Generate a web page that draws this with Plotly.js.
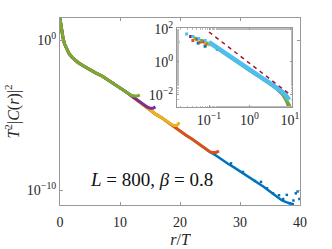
<!DOCTYPE html>
<html><head><meta charset="utf-8">
<script src="https://cdn.plot.ly/plotly-3.0.1.min.js"></script>
<style>html,body{margin:0;padding:0;background:#fff}#c{width:332px;height:249px}</style>
</head><body><div id="c"></div>
<script>
// ---- main panel data: r/T vs T^2|C(r)|^2 ----
const blueX = [0,0.25,0.5,0.75,1,1.5,2,2.5,3,4,5,6,7,8,9,10,11,12,13,14,15,16,17,18,19,20,21,22,23,24,25,26,27,28,29,30,31,32,33,34,35,36,37,38,39];
const blueY = [28,5,1.4,0.56,0.32,0.126,0.071,0.045,0.032,0.018,0.01,0.0063,0.004,0.0022,1.26e-3,7.1e-4,3.5e-4,1.8e-4,8.9e-5,4.5e-5,2.2e-5,1.1e-5,6.3e-6,3.2e-6,1.6e-6,8.9e-7,4.5e-7,2.5e-7,1.26e-7,7.1e-8,3.5e-8,2.0e-8,1.0e-8,5.6e-9,3.2e-9,1.8e-9,1e-9,5.6e-10,2.8e-10,1.6e-10,7.9e-11,4e-11,2e-11,1.4e-11,1.1e-11];
const blueTailX = [28.5,30.5,32.5,33.5,34.5,35.5,36.5,37.2,37.8,38.3,38.9,39.3,39.6,39.9];
const blueTailY = [6e-9,1.6e-9,4e-10,3.5e-10,1.3e-10,6e-11,4.5e-11,2.5e-11,4.7e-11,1.3e-11,2e-11,6e-11,8e-11,2.5e-11];
const orangeX = [0,0.25,0.5,0.75,1,1.5,2,2.5,3,4,5,6,7,8,9,10,11,12,13,14,15,16,17,18,19,20,21,22,23,24,25,25.5,26,26.5];
const orangeY = [26,5,1.4,0.56,0.32,0.126,0.071,0.045,0.032,0.018,0.01,0.0063,0.004,0.0022,1.26e-3,7.1e-4,3.5e-4,1.8e-4,8.9e-5,4.5e-5,2.2e-5,1.1e-5,6.3e-6,3.2e-6,1.6e-6,8.9e-7,4.5e-7,2.5e-7,1.26e-7,7.1e-8,3.5e-8,3.2e-8,3.2e-8,4e-8];
const yellowX = [0,0.25,0.5,0.75,1,1.5,2,2.5,3,4,5,6,7,8,9,10,11,12,13,14,15,16,17,18,18.5,19,19.5,19.9];
const yellowY = [24,5,1.4,0.56,0.32,0.126,0.071,0.045,0.032,0.018,0.01,0.0063,0.004,0.0022,1.26e-3,7.1e-4,3.5e-4,1.8e-4,8.9e-5,4.5e-5,2.2e-5,1.1e-5,6.3e-6,3.2e-6,2.5e-6,2e-6,2e-6,3.2e-6];
const purpleX = [0,0.25,0.5,0.75,1,1.5,2,2.5,3,4,5,6,7,8,9,10,11,12,13,14,14.5,15,15.5,15.9];
const purpleY = [27,5,1.4,0.56,0.32,0.126,0.071,0.045,0.032,0.018,0.01,0.0063,0.004,0.0022,1.26e-3,7.1e-4,3.5e-4,1.8e-4,8.9e-5,4.5e-5,3.5e-5,2.8e-5,2.8e-5,3.5e-5];
const greenX = [0,0.25,0.5,0.75,1,1.5,2,2.5,3,4,5,6,7,8,9,10,11,11.5,12,12.5,13,13.3];
const greenY = [28,5,1.4,0.56,0.32,0.126,0.071,0.045,0.032,0.018,0.01,0.0063,0.004,0.0022,1.26e-3,7.1e-4,3.5e-4,2.5e-4,2e-4,1.85e-4,1.9e-4,2.2e-4];

// ---- inset data (log-log) ----
const inCyanDotsX = [0.028,0.04,0.056,0.08];
const inCyanDotsY = [50,35,26,20];
const inPurpleDotsX = [0.035,0.05,0.07];
const inPurpleDotsY = [35,25,18];
const inGreenDotsX = [0.045,0.065,0.09];
const inGreenDotsY = [28,20,14];
const inOrangeDotsX = [0.04,0.06,0.085];
const inOrangeDotsY = [20,16,12];
const inYellowDotsX = [0.05,0.075,0.1];
const inYellowDotsY = [22,15,11];
const inBlueDotsX = [0.017,0.054,0.08,0.16];
const inBlueDotsY = [16,14,9,6];
const inCyanX = [0.1,0.14,0.2,0.3,0.45,0.65,1,1.5,2.2,3.2,4.5,6.5,8,9.5];
const inCyanY = [16,9,4.8,2.4,1.26,0.68,0.33,0.17,0.095,0.052,0.03,0.015,0.009,0.005];
const inGreenX = [0.1,0.2,0.45,1,2.2,3.2,4.5,6.5,8,9.8];
const inGreenY = [15,4.5,1.2,0.31,0.09,0.05,0.027,0.012,0.0055,0.0022];
const inPurpleX = [2.2,3.2,4.5,6.5,8,9.6];
const inPurpleY = [0.09,0.05,0.026,0.011,0.005,0.0016];
const inRefX = [0.1,9];
const inRefY = [66,0.013];

const C = {blue:'#0072BD',orange:'#D95319',yellow:'#EDB120',purple:'#7E2F8E',green:'#77AC30',cyan:'#4DBEEE',red:'#A2142F'};
const F = 'Liberation Serif';

function ln(x,y,c,w,ax){return {x:x,y:y,mode:'lines',line:{color:c,width:w},xaxis:ax[0],yaxis:ax[1],hoverinfo:'skip'};}
function mk(x,y,c,s,ax){return {x:x,y:y,mode:'markers',marker:{color:c,size:s,symbol:'square'},xaxis:ax[0],yaxis:ax[1],hoverinfo:'skip'};}
const M=['x','y'], I=['x2','y2'];

const data = [
  ln(blueX,blueY,C.blue,2.5,M), mk(blueTailX,blueTailY,C.blue,2.5,M),
  ln(orangeX,orangeY,C.orange,3,M),
  ln(yellowX,yellowY,C.yellow,3,M),
  ln(purpleX,purpleY,C.purple,3,M),
  ln(greenX,greenY,C.green,3,M),
  mk(inBlueDotsX,inBlueDotsY,C.blue,3,I),
  mk(inOrangeDotsX,inOrangeDotsY,C.orange,3,I),
  mk(inYellowDotsX,inYellowDotsY,C.yellow,3,I),
  mk(inPurpleDotsX,inPurpleDotsY,C.purple,3,I),
  mk(inGreenDotsX,inGreenDotsY,C.green,3,I),
  mk(inCyanDotsX,inCyanDotsY,C.cyan,3,I),
  ln(inPurpleX,inPurpleY,C.purple,3,I),
  ln(inGreenX,inGreenY,C.green,3.5,I),
  ln(inCyanX,inCyanY,C.cyan,4.5,I),
  {x:inRefX,y:inRefY,mode:'lines',line:{color:C.red,width:1.5,dash:'4px,4px'},xaxis:'x2',yaxis:'y2',hoverinfo:'skip'}
];

const axBase = {showline:true,linecolor:'#999',linewidth:1,mirror:'ticks',ticks:'inside',ticklen:3,tickcolor:'#999',showgrid:false,zeroline:false,tickfont:{family:F,size:14,color:'#262626'}};

const layout = {
  width:332,height:249,showlegend:false,
  paper_bgcolor:'#fff',plot_bgcolor:'#fff',
  font:{family:F},
  margin:{l:60,r:32,t:18,b:44},
  xaxis:Object.assign({},axBase,{domain:[0,1],range:[0,40],tickvals:[0,10,20,30,40],ticktext:['0','10','20','30','40'],ticklabelstandoff:4,
    title:{text:'<i>r</i>/<i>T</i>',font:{family:F,size:16,color:'#262626'},standoff:5}}),
  yaxis:Object.assign({},axBase,{domain:[0,1],type:'log',range:[-11,1.47],tickvals:[1,1e-10],ticktext:['10<sup>0</sup>','10<sup>−10</sup>'],
    title:{text:'<i>T</i><sup>2</sup>|<i>C</i>(<i>r</i>)|<sup>2</sup>',font:{family:F,size:16,color:'#262626'},standoff:3}}),
  xaxis2:Object.assign({},axBase,{domain:[0.4875,0.967],anchor:'y2',type:'log',range:[-1.79,1.05],tickvals:[0.1,1,10],ticktext:['10<sup>−1</sup>','10<sup>0</sup>','10<sup>1</sup>'],ticklen:2,
    minor:{ticks:'inside',ticklen:1.5,tickcolor:'#bbb'}}),
  yaxis2:Object.assign({},axBase,{domain:[0.524,0.9465],anchor:'x2',type:'log',range:[-2.73,2.06],tickvals:[100,1,0.01],ticktext:['10<sup>2</sup>','10<sup>0</sup>','10<sup>−2</sup>'],ticklen:2,
    minor:{ticks:'inside',ticklen:1.5,tickcolor:'#bbb'}}),
  annotations:[{xref:'x',yref:'paper',x:15.2,y:0.135,text:'<i>L</i> = 800, <i>β</i> = 0.8',showarrow:false,font:{family:F,size:19,color:'#111'},xanchor:'center',yanchor:'middle'}]
};
Plotly.newPlot('c',data,layout,{staticPlot:true,displayModeBar:false});
</script></body></html>
